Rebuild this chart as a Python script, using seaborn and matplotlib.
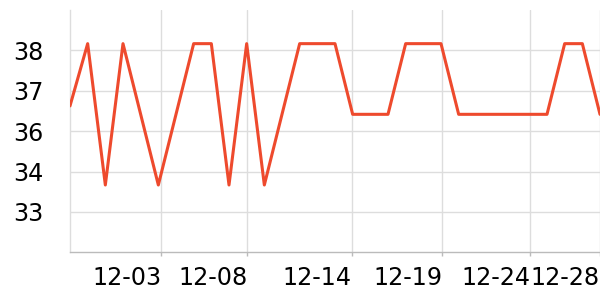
import matplotlib
matplotlib.use("Agg")
import matplotlib.pyplot as plt
import seaborn as sns
import pandas as pd

# ---- data ----
dates = ["2023-11-28", "2023-11-29", "2023-11-30", "2023-12-01", "2023-12-03",
         "2023-12-05", "2023-12-06", "2023-12-07", "2023-12-08", "2023-12-09",
         "2023-12-11", "2023-12-13", "2023-12-14", "2023-12-16", "2023-12-17",
         "2023-12-19", "2023-12-20", "2023-12-25", "2023-12-26", "2023-12-27",
         "2023-12-28"]
values = [36.35, 38.2, 34.0, 38.2, 34.0,
          38.2, 38.2, 34.0, 38.2, 34.0,
          38.2, 38.2, 36.1, 36.1, 38.2,
          38.2, 36.1, 36.1, 38.2, 38.2,
          36.1]
x_tick_dates = ["2023-12-03 04:00", "2023-12-08 01:00", "2023-12-13 23:00",
                "2023-12-19 02:00", "2023-12-24 01:00", "2023-12-28 00:00"]
x_tick_labels = ["12-03", "12-08", "12-14", "12-19", "12-24", "12-28"]
y_ticks = [33.2, 34.4, 35.6, 36.8, 38.0]
y_tick_labels = ["33", "34", "36", "37", "38"]
y_range = (32.0, 39.2)
x_range = ("2023-11-28", "2023-12-28")

df = pd.DataFrame({"date": pd.to_datetime(dates), "value": values})

sns.set_style("white")
plt.rcParams["font.family"] = ["DejaVu Sans"]

fig = plt.figure(figsize=(6, 3), dpi=100)
ax = fig.add_axes([70 / 600, 1 - 252.3 / 300, 530 / 600, 242.3 / 300])

sns.lineplot(data=df, x="date", y="value", ax=ax, color="#ee4a2d",
             linewidth=2.2, zorder=3)

ax.set_xlim(pd.to_datetime(x_range[0]), pd.to_datetime(x_range[1]))
ax.set_ylim(*y_range)
ax.set_xticks(pd.to_datetime(x_tick_dates))
ax.set_xticklabels(x_tick_labels)
for lab in ax.get_xticklabels():
    lab.set_horizontalalignment("right")
ax.set_yticks(y_ticks)
ax.set_yticklabels(y_tick_labels)

ax.grid(True, color="#dddddd", linewidth=1.0)
ax.set_axisbelow(True)
ax.set_xlabel("")
ax.set_ylabel("")

for s in ["top", "right"]:
    ax.spines[s].set_visible(False)
ax.spines["left"].set_color("#dddddd")
ax.spines["left"].set_linewidth(1.0)
ax.spines["bottom"].set_color("#bbbbbb")
ax.spines["bottom"].set_linewidth(1.0)

ax.tick_params(axis="x", length=3, width=1, color="#bbbbbb", pad=7,
               labelsize=17.2, labelcolor="black", bottom=True)
ax.tick_params(axis="y", length=0, pad=19.0, labelsize=17.2, labelcolor="black")

fig.savefig("out.png", dpi=100)
